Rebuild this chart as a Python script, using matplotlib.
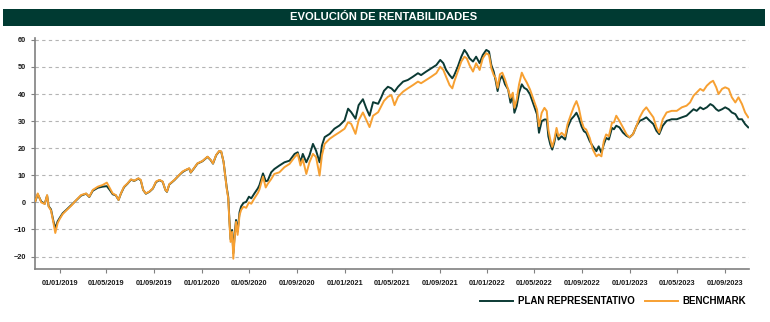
import matplotlib
matplotlib.use("Agg")
import matplotlib.pyplot as plt
import matplotlib.dates as mdates
from matplotlib.patches import Rectangle
import pandas as pd

plt.rcParams['font.family'] = ['Liberation Sans', 'DejaVu Sans']

dates = [
    "2018-10-31", "2018-11-06", "2018-11-15", "2018-11-24", "2018-11-30", "2018-12-04",
    "2018-12-10", "2018-12-16", "2018-12-21", "2018-12-27", "2019-01-01", "2019-01-09",
    "2019-01-18", "2019-01-31", "2019-02-13", "2019-02-25", "2019-03-10", "2019-03-18",
    "2019-03-27", "2019-04-09", "2019-04-21", "2019-05-02", "2019-05-10", "2019-05-17",
    "2019-05-25", "2019-06-01", "2019-06-07", "2019-06-15", "2019-06-24", "2019-07-03",
    "2019-07-11", "2019-07-22", "2019-07-28", "2019-08-03", "2019-08-10", "2019-08-19",
    "2019-08-28", "2019-09-05", "2019-09-14", "2019-09-22", "2019-09-29", "2019-10-03",
    "2019-10-09", "2019-10-22", "2019-11-03", "2019-11-12", "2019-11-20", "2019-11-29",
    "2019-12-03", "2019-12-11", "2019-12-20", "2020-01-02", "2020-01-15", "2020-01-23",
    "2020-01-29", "2020-02-06", "2020-02-14", "2020-02-19", "2020-02-25", "2020-03-01",
    "2020-03-04", "2020-03-08", "2020-03-11", "2020-03-14", "2020-03-18", "2020-03-21",
    "2020-03-25", "2020-03-28", "2020-04-01", "2020-04-06", "2020-04-10", "2020-04-16",
    "2020-04-23", "2020-04-30", "2020-05-06", "2020-05-14", "2020-05-23", "2020-05-27",
    "2020-06-05", "2020-06-12", "2020-06-17", "2020-06-26", "2020-07-04", "2020-07-17",
    "2020-07-30", "2020-08-12", "2020-08-25", "2020-09-02", "2020-09-09", "2020-09-15",
    "2020-09-24", "2020-10-02", "2020-10-11", "2020-10-19", "2020-10-28", "2020-11-03",
    "2020-11-10", "2020-11-23", "2020-12-05", "2020-12-18", "2020-12-31", "2021-01-09",
    "2021-01-17", "2021-01-28", "2021-02-05", "2021-02-16", "2021-02-25", "2021-03-05",
    "2021-03-14", "2021-03-27", "2021-04-04", "2021-04-11", "2021-04-21", "2021-04-30",
    "2021-05-08", "2021-05-17", "2021-05-30", "2021-06-11", "2021-06-24", "2021-07-07",
    "2021-07-15", "2021-07-28", "2021-08-10", "2021-08-23", "2021-09-02", "2021-09-10",
    "2021-09-17", "2021-09-26", "2021-10-03", "2021-10-08", "2021-10-17", "2021-10-26",
    "2021-11-03", "2021-11-09", "2021-11-16", "2021-11-25", "2021-12-03", "2021-12-12",
    "2021-12-20", "2021-12-29", "2022-01-05", "2022-01-11", "2022-01-17", "2022-01-22",
    "2022-01-27", "2022-02-02", "2022-02-08", "2022-02-15", "2022-02-23", "2022-03-01",
    "2022-03-07", "2022-03-11", "2022-03-17", "2022-03-23", "2022-03-30", "2022-04-05",
    "2022-04-12", "2022-04-20", "2022-04-29", "2022-05-08", "2022-05-13", "2022-05-20",
    "2022-05-27", "2022-06-02", "2022-06-06", "2022-06-11", "2022-06-16", "2022-06-21",
    "2022-06-27", "2022-07-02", "2022-07-10", "2022-07-19", "2022-07-25", "2022-08-03",
    "2022-08-11", "2022-08-17", "2022-08-23", "2022-08-30", "2022-09-05", "2022-09-11",
    "2022-09-20", "2022-09-28", "2022-10-07", "2022-10-13", "2022-10-20", "2022-10-26",
    "2022-11-01", "2022-11-08", "2022-11-16", "2022-11-21", "2022-11-27", "2022-12-05",
    "2022-12-14", "2022-12-23", "2022-12-31", "2023-01-09", "2023-01-18", "2023-01-26",
    "2023-02-04", "2023-02-12", "2023-02-21", "2023-03-02", "2023-03-10", "2023-03-17",
    "2023-03-26", "2023-04-05", "2023-04-18", "2023-05-01", "2023-05-14", "2023-05-26",
    "2023-06-04", "2023-06-13", "2023-06-21", "2023-06-30", "2023-07-08", "2023-07-17",
    "2023-07-26", "2023-08-02", "2023-08-10", "2023-08-16", "2023-08-25", "2023-09-02",
    "2023-09-11", "2023-09-19", "2023-09-28", "2023-10-06", "2023-10-15", "2023-10-23",
    "2023-10-31",
]

plan = [
    0.5, 3.0, 0.3, -0.5, 2.5, -1.4,
    -2.6, -6.8, -9.6, -7.0, -5.8, -4.0,
    -2.8, -1.0, 0.8, 2.5, 3.2, 2.0,
    4.3, 5.4, 5.8, 6.0, 4.5, 3.0,
    2.6, 0.9, 3.2, 5.6, 6.9, 8.4,
    7.9, 8.8, 8.1, 4.6, 3.2, 3.9,
    5.1, 7.5, 8.2, 7.6, 4.6, 3.9,
    6.6, 8.2, 10.0, 11.2, 11.9, 12.5,
    11.0, 12.5, 14.3, 15.2, 16.8, 15.6,
    14.3, 17.4, 18.9, 18.7, 15.0, 9.3,
    5.6, 2.0, -6.5, -13.6, -10.2, -18.8,
    -11.0, -6.5, -10.8, -3.6, -1.5, -0.2,
    0.2, 2.1, 1.5, 3.3, 5.2, 6.4,
    10.7, 7.8, 8.0, 11.1, 12.3, 13.6,
    14.8, 15.4, 17.9, 18.5, 14.8, 17.9,
    14.8, 17.3, 21.6, 19.1, 14.8, 21.0,
    24.1, 25.3, 27.2, 28.4, 30.3, 34.6,
    33.3, 30.9, 35.9, 38.1, 34.6, 32.0,
    37.0, 36.4, 38.8, 41.2, 42.7, 42.1,
    40.9, 42.7, 44.6, 45.2, 46.4, 47.7,
    47.0, 48.3, 49.5, 50.7, 52.6, 51.4,
    48.9, 47.0, 45.8, 47.0, 50.1, 53.8,
    56.3, 55.1, 53.2, 52.0, 53.8, 51.4,
    54.4, 56.3, 55.7, 50.7, 48.3, 45.0,
    41.1, 45.4, 46.7, 43.6, 41.7, 36.8,
    39.3, 33.1, 35.6, 40.5, 43.6, 42.3,
    41.7, 39.9, 36.2, 32.5, 25.7, 30.0,
    30.6, 30.6, 24.4, 21.4, 19.5, 22.0,
    26.3, 23.2, 24.4, 23.2, 27.5, 30.6,
    31.9, 33.1, 31.2, 28.1, 26.3, 25.7,
    22.6, 20.7, 18.9, 20.7, 18.3, 21.4,
    23.8, 23.2, 27.5, 27.0, 28.3, 27.7,
    25.8, 24.6, 24.0, 25.2, 28.3, 30.1,
    30.7, 31.4, 30.1, 28.9, 26.4, 25.2,
    28.3, 30.1, 30.7, 30.7, 31.4, 32.0,
    33.2, 34.4, 33.8, 35.1, 34.4, 35.1,
    36.3, 35.7, 34.4, 33.8, 34.4, 35.1,
    34.4, 33.2, 32.6, 30.7, 30.7, 28.9,
    27.7,
]

benchmark = [
    0.5, 3.3, 0.0, -0.6, 2.7, -1.6,
    -3.0, -7.4, -11.3, -7.6, -6.2, -4.3,
    -3.0, -1.2, 0.9, 2.7, 3.3, 2.1,
    4.6, 5.8, 6.4, 7.3, 5.2, 3.3,
    2.7, 0.9, 3.3, 5.8, 7.0, 8.5,
    8.0, 8.9, 8.3, 4.6, 3.3, 4.0,
    5.2, 7.7, 8.3, 7.7, 4.6, 4.0,
    6.7, 8.3, 10.1, 11.4, 12.0, 12.6,
    11.1, 12.6, 14.4, 15.3, 16.9, 15.7,
    14.4, 17.5, 19.0, 18.8, 15.0, 8.9,
    5.2, 1.5, -7.2, -14.6, -10.9, -20.8,
    -12.0, -7.2, -12.0, -4.7, -2.8, -1.6,
    -2.0, 0.0, -0.5, 1.5, 3.5, 4.8,
    9.5, 5.5, 6.8, 8.6, 10.5, 11.1,
    13.0, 14.2, 16.7, 17.9, 13.6, 16.0,
    10.5, 14.8, 17.9, 16.7, 9.9, 17.3,
    21.6, 23.5, 24.7, 25.9, 27.2, 29.6,
    29.0, 25.3, 30.3, 33.2, 30.3, 27.8,
    32.0, 33.3, 35.5, 37.5, 39.0, 39.6,
    35.9, 39.0, 40.9, 42.1, 43.3, 44.6,
    44.0, 45.2, 46.4, 47.7, 50.1, 48.9,
    46.4, 43.3, 42.1, 44.6, 48.3, 52.0,
    53.8, 53.2, 50.7, 48.3, 51.4, 48.9,
    53.2, 55.1, 54.4, 49.5, 47.0, 46.0,
    42.3, 47.3, 47.9, 45.4, 41.7, 38.6,
    40.5, 34.9, 38.0, 43.6, 47.9, 46.0,
    44.2, 41.7, 38.0, 34.3, 28.1, 33.1,
    34.9, 33.7, 26.9, 23.2, 20.5, 23.0,
    27.5, 24.4, 25.7, 24.4, 28.8, 32.5,
    35.6, 37.4, 34.9, 30.0, 27.5, 26.9,
    23.8, 19.5, 17.0, 17.7, 17.0, 22.6,
    25.1, 24.4, 29.4, 29.5, 32.0, 30.1,
    27.7, 25.2, 24.0, 25.2, 28.3, 31.4,
    33.8, 35.1, 33.2, 31.4, 27.7, 25.8,
    30.7, 33.2, 33.8, 33.8, 35.1, 35.7,
    36.9, 39.4, 40.6, 41.9, 41.2, 43.1,
    44.3, 44.9, 42.5, 40.0, 41.9, 42.5,
    41.9, 38.8, 36.9, 38.8, 36.3, 33.2,
    31.4,
]

y_ticks = [-20, -10, 0, 10, 20, 30, 40, 50, 60]
title = "EVOLUCIÓN DE RENTABILIDADES"
series_names = ["PLAN REPRESENTATIVO", "BENCHMARK"]

dark_green = "#0b3a34"
orange = "#f7a032"
bar_green = "#003a32"

x = pd.to_datetime(dates)

fig = plt.figure(figsize=(7.7, 3.22), dpi=100)
fig.patches.append(Rectangle((3 / 770, 1 - 26 / 322), 762 / 770, 17 / 322,
                             transform=fig.transFigure, facecolor=bar_green,
                             edgecolor="none", zorder=0))
fig.text(384 / 770, 1 - 17.5 / 322, title, color="white", fontsize=8.1,
         fontweight="bold", ha="center", va="center")

ax = fig.add_axes([35 / 770, 53 / 322, 714 / 770, 231 / 322])
ax.plot(x, plan, color=dark_green, lw=1.4, label=series_names[0], zorder=3)
ax.plot(x, benchmark, color=orange, lw=1.4, label=series_names[1], zorder=4)

ax.set_xlim(pd.Timestamp("2018-10-30"), pd.Timestamp("2023-11-02"))
ax.set_ylim(-24.6, 60.7)
ax.set_yticks(y_ticks)
ax.xaxis.set_major_locator(mdates.MonthLocator(bymonth=[1, 5, 9], bymonthday=1))
ax.xaxis.set_major_formatter(mdates.DateFormatter("%d/%m/%Y"))

ax.grid(axis="y", color="#b4b4b4", linestyle=(0, (3, 3)), lw=0.8)
ax.set_axisbelow(True)
for side in ("top", "right"):
    ax.spines[side].set_visible(False)
for side in ("left", "bottom"):
    ax.spines[side].set_color("#808080")
    ax.spines[side].set_linewidth(1.2)
ax.tick_params(axis="both", colors="#808080", length=3, width=0.8,
               labelcolor="#1a1a1a", labelsize=5.3)
ax.tick_params(axis="x", pad=5)
for lbl in ax.get_xticklabels() + ax.get_yticklabels():
    lbl.set_fontweight("bold")

fig.legend(loc="center right", bbox_to_anchor=(746 / 770, 21 / 322), ncol=2,
           frameon=False, prop={"weight": "bold", "size": 7},
           handlelength=3.4, columnspacing=1.1, handletextpad=0.45,
           borderaxespad=0, borderpad=0)

fig.savefig("out.png", dpi=100)
